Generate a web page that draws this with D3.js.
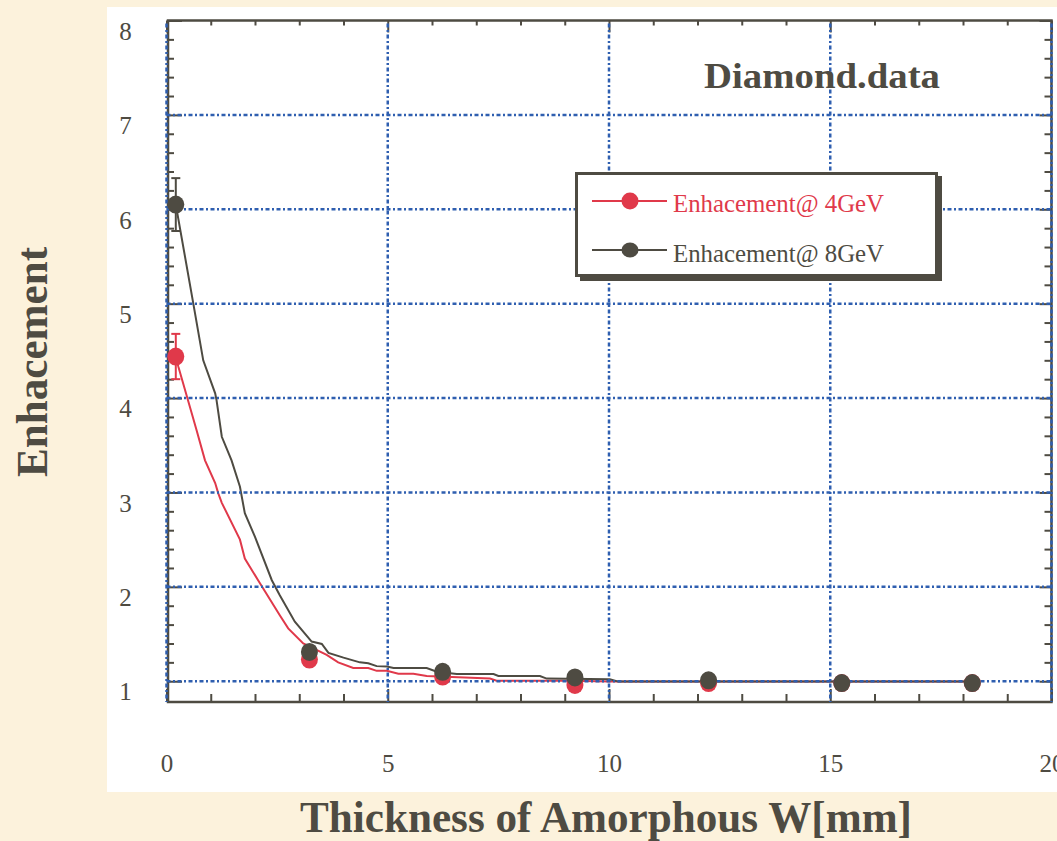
<!DOCTYPE html>
<html>
<head>
<meta charset="utf-8">
<script src="https://cdn.jsdelivr.net/npm/d3@7"></script>
<style>
  body { margin: 0; background: #fcf2dc; }
  svg { display: block; }
  text { font-family: "Liberation Serif", "Times New Roman", serif; fill: #4e4b42; }
</style>
</head>
<body>
<svg id="chart" width="1057" height="841"></svg>
<script>
// tick values
const xTicks = [0, 5, 10, 15, 20];
const yTicks = [1, 2, 3, 4, 5, 6, 7, 8];

// measured points (thickness in mm)
const pointX = [0.21, 3.23, 6.24, 9.23, 12.25, 15.26, 18.21];
const enh4 = [4.44, 1.23, 1.05, 0.96, 0.98, 0.98, 0.98];
const enh8 = [6.05, 1.31, 1.10, 1.04, 1.01, 0.98, 0.98];
const err4 = [0.24, 0, 0, 0, 0, 0, 0];
const err8 = [0.28, 0, 0, 0, 0, 0, 0];

// calculated curves [x, y]
const curve4 = [
  [0.21, 4.44], [0.27, 4.33], [0.57, 3.84], [0.68, 3.66], [0.87, 3.34], [1.10, 3.10],
  [1.17, 2.99], [1.25, 2.89], [1.66, 2.50], [1.77, 2.30], [2.07, 2.07], [2.56, 1.70],
  [2.75, 1.56], [3.09, 1.40], [3.62, 1.28], [3.88, 1.20], [4.22, 1.14], [4.56, 1.14],
  [4.75, 1.11], [4.98, 1.11], [5.24, 1.08], [5.58, 1.08], [5.88, 1.056], [7.31, 1.028],
  [7.46, 1.006], [9.12, 1.006], [10.02, 0.996], [18.2, 0.996]
];
const curve8 = [
  [0.21, 6.05], [0.61, 4.99], [0.83, 4.40], [1.10, 4.05], [1.13, 3.98], [1.25, 3.59],
  [1.47, 3.34], [1.66, 3.06], [1.77, 2.78], [2.00, 2.53], [2.38, 2.07], [2.56, 1.91],
  [2.90, 1.63], [3.28, 1.42], [3.51, 1.395], [3.66, 1.30], [4.00, 1.25], [4.37, 1.20],
  [4.56, 1.19], [4.75, 1.16], [4.98, 1.155], [5.13, 1.14], [5.88, 1.14], [6.11, 1.10],
  [6.56, 1.077], [7.39, 1.077], [7.50, 1.056], [8.44, 1.056], [8.59, 1.028], [10.02, 1.021],
  [10.21, 0.996], [18.2, 0.996]
];

const series = [
  { name: "Enhacement@ 4GeV", color: "#e0394a", ys: enh4, errs: err4, curve: curve4 },
  { name: "Enhacement@ 8GeV", color: "#4e4b42", ys: enh8, errs: err8, curve: curve8 }
];

const dark = "#4e4b42";
const gridBlue = "#2f5fb0";

const svg = d3.select("#chart");

// white panel
svg.append("rect")
  .attr("x", 107).attr("y", 7).attr("width", 950).attr("height", 785)
  .attr("fill", "#ffffff");

const plotLeft = 166.5, plotRight = 1051.5, plotTop = 20.5, plotBottom = 702;

const x = d3.scaleLinear().domain([0, 20]).range([plotLeft, plotRight]);
const y = d3.scaleLinear().domain([0.78, 8]).range([plotBottom, plotTop]);

// curves
const line = d3.line().x(d => x(d[0])).y(d => y(d[1]));
series.forEach(s => {
  svg.append("path")
    .datum(s.curve)
    .attr("d", line)
    .attr("fill", "none")
    .attr("stroke", s.color)
    .attr("stroke-width", 2);
});

// frame
svg.append("rect")
  .attr("x", plotLeft + 1.5).attr("y", plotTop)
  .attr("width", plotRight - plotLeft - 1.5).attr("height", plotBottom - plotTop)
  .attr("fill", "none")
  .attr("stroke", dark)
  .attr("stroke-width", 2.5);

// inner ticks via axes
const xMinor = d3.range(0, 20.01, 1);
const yMinor = d3.range(1, 8.01, 0.2).map(v => +v.toFixed(1));

function tickAxis(axis, transform) {
  const g = svg.append("g").attr("transform", transform).call(axis);
  g.select(".domain").remove();
  g.selectAll("line").attr("stroke", dark).attr("stroke-width", 2);
  return g;
}
// bottom: ticks pointing up
tickAxis(d3.axisTop(x).tickValues(xMinor).tickFormat("").tickSize(8),
  `translate(0,${plotBottom})`)
  .selectAll(".tick line").attr("y2", d => d % 5 === 0 ? -13 : -8);
// top: ticks pointing down
tickAxis(d3.axisBottom(x).tickValues(xMinor).tickFormat("").tickSize(5),
  `translate(0,${plotTop})`)
  .selectAll(".tick line").attr("y2", d => d % 5 === 0 ? 12 : 5);
// left: ticks pointing right
tickAxis(d3.axisRight(y).tickValues(yMinor).tickFormat("").tickSize(6),
  `translate(${plotLeft + 1.5},0)`)
  .selectAll(".tick line").attr("x2", d => Number.isInteger(d) ? 14 : 6);
// right: ticks pointing left
tickAxis(d3.axisLeft(y).tickValues(yMinor).tickFormat("").tickSize(7),
  `translate(${plotRight},0)`)
  .selectAll(".tick line").attr("x2", d => Number.isInteger(d) ? -12 : -7);

// grid lines
const grid = svg.append("g")
  .attr("stroke", gridBlue)
  .attr("stroke-width", 2.5)
  .attr("stroke-dasharray", "4,2.5,2,2.5");
grid.selectAll(".hgrid")
  .data(yTicks.filter(v => v < 8))
  .join("line")
  .attr("class", "hgrid")
  .attr("x1", x(0)).attr("x2", x(20))
  .attr("y1", d => y(d)).attr("y2", d => y(d));
grid.selectAll(".vgrid")
  .data(xTicks)
  .join("line")
  .attr("class", "vgrid")
  .attr("x1", d => x(d)).attr("x2", d => x(d))
  .attr("y1", plotTop + 3).attr("y2", plotBottom);

// tick labels
const yAxis = svg.append("g")
  .attr("transform", `translate(${plotLeft},0)`)
  .call(d3.axisLeft(y).tickValues(yTicks).tickSize(0).tickFormat(d3.format("d")));
yAxis.select(".domain").remove();
yAxis.selectAll("text")
  .attr("x", -41)
  .attr("dy", "0.75em")
  .attr("text-anchor", "middle")
  .style("font-family", "'Liberation Serif', serif")
  .style("font-size", "25px")
  .attr("fill", dark);

const xAxis = svg.append("g")
  .attr("transform", `translate(0,${plotBottom})`)
  .call(d3.axisBottom(x).tickValues(xTicks).tickSize(0).tickPadding(52).tickFormat(d3.format("d")));
xAxis.select(".domain").remove();
xAxis.selectAll("text")
  .style("font-family", "'Liberation Serif', serif")
  .style("font-size", "25px")
  .attr("fill", dark);

// error bars and markers
series.forEach(s => {
  const pts = pointX.map((px, i) => ({ x: px, y: s.ys[i], e: s.errs[i] }));
  const eb = svg.append("g").attr("stroke", s.color).attr("stroke-width", 2);
  pts.filter(p => p.e > 0).forEach(p => {
    eb.append("line").attr("x1", x(p.x)).attr("x2", x(p.x))
      .attr("y1", y(p.y + p.e)).attr("y2", y(p.y - p.e));
    eb.append("line").attr("x1", x(p.x) - 4.5).attr("x2", x(p.x) + 4.5)
      .attr("y1", y(p.y + p.e)).attr("y2", y(p.y + p.e));
    eb.append("line").attr("x1", x(p.x) - 4.5).attr("x2", x(p.x) + 4.5)
      .attr("y1", y(p.y - p.e)).attr("y2", y(p.y - p.e));
  });
  svg.append("g").selectAll("ellipse")
    .data(pts)
    .join("ellipse")
    .attr("cx", d => x(d.x))
    .attr("cy", d => y(d.y))
    .attr("rx", 8.5)
    .attr("ry", 9)
    .attr("fill", s.color);
});

// title
svg.append("text")
  .attr("x", 704).attr("y", 88)
  .attr("textLength", 236)
  .attr("lengthAdjust", "spacingAndGlyphs")
  .style("font-size", "36px")
  .style("font-weight", "bold")
  .text("Diamond.data");

// legend
const lg = svg.append("g");
lg.append("rect")
  .attr("x", 580).attr("y", 176).attr("width", 362).attr("height", 105)
  .attr("fill", dark);
lg.append("rect")
  .attr("x", 576.5).attr("y", 173.5).attr("width", 360).attr("height", 102)
  .attr("fill", "#ffffff")
  .attr("stroke", dark)
  .attr("stroke-width", 3);
const legendY = [201, 250];
const legendBase = [212, 262];
series.forEach((s, i) => {
  lg.append("line")
    .attr("x1", 592).attr("x2", 667)
    .attr("y1", legendY[i]).attr("y2", legendY[i])
    .attr("stroke", s.color).attr("stroke-width", 2);
  lg.append("ellipse")
    .attr("cx", 630).attr("cy", legendY[i])
    .attr("rx", 8.5).attr("ry", i === 0 ? 8.5 : 7.5)
    .attr("fill", s.color);
  lg.append("text")
    .attr("x", 673).attr("y", legendBase[i])
    .attr("textLength", 211)
    .attr("lengthAdjust", "spacingAndGlyphs")
    .style("font-size", "26px")
    .style("fill", s.color)
    .text(s.name);
});

// axis titles
svg.append("text")
  .attr("x", 606).attr("y", 832)
  .attr("text-anchor", "middle")
  .attr("textLength", 612)
  .attr("lengthAdjust", "spacingAndGlyphs")
  .style("font-size", "45px")
  .style("font-weight", "bold")
  .text("Thickness of Amorphous W[mm]");

svg.append("text")
  .attr("transform", "translate(47,362) rotate(-90)")
  .attr("text-anchor", "middle")
  .attr("textLength", 230)
  .attr("lengthAdjust", "spacingAndGlyphs")
  .style("font-size", "44px")
  .style("font-weight", "bold")
  .text("Enhacement");
</script>
</body>
</html>
